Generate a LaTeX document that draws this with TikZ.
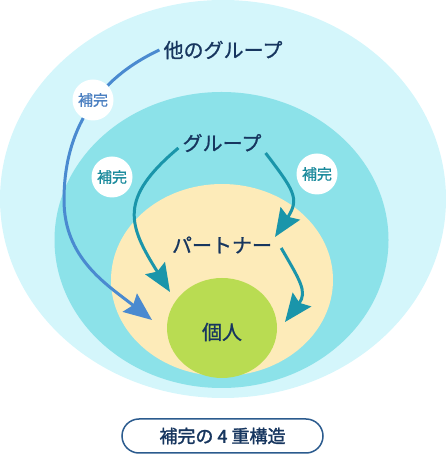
\documentclass[tikz,border=0pt]{standalone}
\usepackage{fontspec}
\newfontfamily\jp[FakeBold=0.9]{Noto Sans CJK JP}
\newfontfamily\jpbold[FakeBold=1.6]{Noto Sans CJK JP}
\usetikzlibrary{shapes.geometric,arrows.meta}
\definecolor{ringA}{HTML}{D4F6FB}
\definecolor{ringB}{HTML}{8CE2E9}
\definecolor{ringC}{HTML}{FDEBB9}
\definecolor{core}{HTML}{B9DC52}
\definecolor{navy}{HTML}{17365F}
\definecolor{navyline}{HTML}{2B5B8E}
\definecolor{bluearr}{HTML}{4A8AD0}
\definecolor{bluetxt}{HTML}{4A7FC1}
\definecolor{tealarr}{HTML}{1A95AA}
\definecolor{tealtxt}{HTML}{1A8A9C}
\tikzset{
  ring/.style={ellipse, inner sep=0pt, fill=#1},
  lbl/.style={font=\jp\fontsize{20}{24}\selectfont, text=navy, inner sep=4pt},
  hokan/.style={circle, fill=white, minimum size=41pt, inner sep=0pt, font=\jp\fontsize{15}{18}\selectfont, text=#1},
  flow/.style={line width=3pt, draw=#1, -{Stealth[length=28pt, width=23pt, inset=4pt]}},
}
\begin{document}
\begin{tikzpicture}[x=1pt, y=1pt]
      \useasboundingbox (0,0) rectangle (446,465);
      \node[ring=ringA, minimum width=446pt, minimum height=398pt] (outer) at (223,266){};
      \node[ring=ringB, minimum width=334pt, minimum height=296pt] (mid) at (221.5,225){};
      \node[ring=ringC, minimum width=222pt, minimum height=192pt] (inner) at (222,185){};
      \node[ring=core, minimum width=110pt, minimum height=100pt] (core) at (222,137){};
      \node[lbl] (other) at (223,415){他のグループ};
      \node[lbl] (group) at (222,322){グループ};
      \node[lbl] (partner) at (222,220){パートナー};
      \node[lbl] (self) at (222,133){個人};
      \coordinate (bendA) at (64,265);
      \coordinate (tipA) at (152,145);
      \coordinate (tipB) at (170,173);
      \coordinate (tipC) at (275,228);
      \coordinate (tipD) at (285,143);
      \draw[flow=bluearr](other.west) to[out=205, in=90] (bendA) to[out=-90, in=142] (tipA);
      \draw[flow=tealarr]([yshift=-5pt]group.west) to[out=220, in=122, looseness=1.4] (tipB);
      \draw[flow=tealarr]([yshift=-10pt]group.east) to[out=-53, in=57, looseness=1.4] (tipC);
      \draw[flow=tealarr]([xshift=5pt, yshift=-3pt]partner.east) to[out=-60, in=53, looseness=1.3] (tipD);
      \node[hokan=bluetxt] (hokan1) at (93,365){補完};
      \node[hokan=tealtxt] (hokan2) at (112,288){補完};
      \node[hokan=tealtxt] (hokan3) at (317,291){補完};
      \node[draw=navyline, line width=1.5pt, rounded corners=17pt, minimum width=201pt, minimum height=34pt,
        font=\jpbold\fontsize{18}{20}\selectfont, text=navy] (caption) at (222.5,29){補完の 4 重構造};
    \end{tikzpicture}
\end{document}
